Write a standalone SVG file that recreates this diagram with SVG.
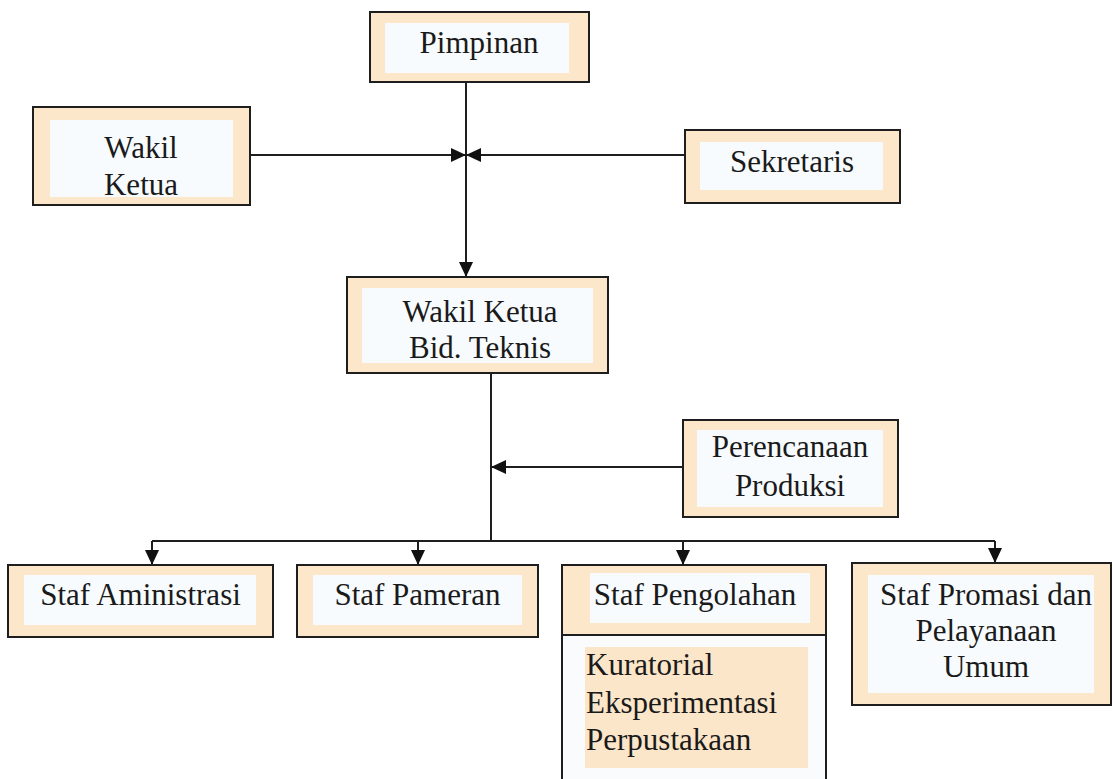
<svg xmlns="http://www.w3.org/2000/svg" width="1113" height="779" viewBox="0 0 1113 779">
<style>
.box{fill:#fce7ca;stroke:#1e1e1e;stroke-width:2}
.inner{fill:#f8fbfe;stroke:none}
.plain{fill:#f9fbfd;stroke:#1e1e1e;stroke-width:2}
.list{fill:#fce6c9;stroke:none}
.t{font-family:"Liberation Serif","Times New Roman",serif;font-size:31px;fill:#1a1a1a;text-anchor:middle}
.tl{font-family:"Liberation Serif","Times New Roman",serif;font-size:31px;fill:#1a1a1a;text-anchor:start}
.c{fill:none;stroke:#1e1e1e;stroke-width:2}
</style>
<defs>
<marker id="ah" markerWidth="15" markerHeight="14" refX="15" refY="7" orient="auto" markerUnits="userSpaceOnUse">
<path d="M0,0 L15,7 L0,14 z" fill="#111"/>
</marker>
</defs>
<rect width="1113" height="779" fill="#ffffff"/>

<g id="connectors">
<path class="c" d="M466,82 V277" marker-end="url(#ah)"/>
<path class="c" d="M250,155 H466" marker-end="url(#ah)"/>
<path class="c" d="M685,155 H466" marker-end="url(#ah)"/>
<path class="c" d="M491,373 V541"/>
<path class="c" d="M683,467 H491" marker-end="url(#ah)"/>
<path class="c" d="M152,541 H995"/>
<path class="c" d="M152,541 V565" marker-end="url(#ah)"/>
<path class="c" d="M418,541 V565" marker-end="url(#ah)"/>
<path class="c" d="M683,541 V565" marker-end="url(#ah)"/>
<path class="c" d="M995,541 V563" marker-end="url(#ah)"/>
</g>

<g id="pimpinan">
<rect class="box" x="370" y="12" width="219" height="70"/>
<rect class="inner" x="385" y="23" width="184" height="50"/>
<text class="t" x="479" y="53">Pimpinan</text>
</g>

<g id="wakil-ketua">
<rect class="box" x="33" y="107" width="217" height="98"/>
<rect class="inner" x="50" y="120" width="183" height="77"/>
<text class="t" x="141" y="158">Wakil</text>
<text class="t" x="141" y="195">Ketua</text>
</g>

<g id="sekretaris">
<rect class="box" x="685" y="130" width="215" height="73"/>
<rect class="inner" x="700" y="142" width="183" height="48"/>
<text class="t" x="792" y="172">Sekretaris</text>
</g>

<g id="wakil-ketua-bid-teknis">
<rect class="box" x="347" y="277" width="261" height="96"/>
<rect class="inner" x="362" y="288" width="231" height="75"/>
<text class="t" x="480" y="322">Wakil Ketua</text>
<text class="t" x="480" y="358">Bid. Teknis</text>
</g>

<g id="perencanaan-produksi">
<rect class="box" x="683" y="420" width="215" height="97"/>
<rect class="inner" x="697" y="430" width="186" height="77"/>
<text class="t" x="790" y="457">Perencanaan</text>
<text class="t" x="790" y="496">Produksi</text>
</g>

<g id="staf-aministrasi">
<rect class="box" x="8" y="565" width="265" height="72"/>
<rect class="inner" x="24" y="575" width="232" height="50"/>
<text class="t" x="140.5" y="605">Staf Aministrasi</text>
</g>

<g id="staf-pameran">
<rect class="box" x="297" y="565" width="241" height="72"/>
<rect class="inner" x="313" y="575" width="209" height="50"/>
<text class="t" x="417.5" y="605">Staf Pameran</text>
</g>

<g id="staf-pengolahan">
<rect class="plain" x="562" y="565" width="264" height="230"/>
<rect class="box" x="562" y="565" width="264" height="70"/>
<rect class="inner" x="590" y="573" width="220" height="50"/>
<text class="t" x="695" y="605">Staf Pengolahan</text>
<rect class="list" x="585" y="647" width="223" height="121"/>
<text class="tl" x="586" y="675">Kuratorial</text>
<text class="tl" x="586" y="713">Eksperimentasi</text>
<text class="tl" x="586" y="750">Perpustakaan</text>
</g>

<g id="staf-promasi">
<rect class="box" x="852" y="563" width="259" height="142"/>
<rect class="inner" x="868" y="575" width="226" height="118"/>
<text class="t" x="986" y="605">Staf Promasi dan</text>
<text class="t" x="986" y="641">Pelayanaan</text>
<text class="t" x="986" y="677">Umum</text>
</g>
</svg>
